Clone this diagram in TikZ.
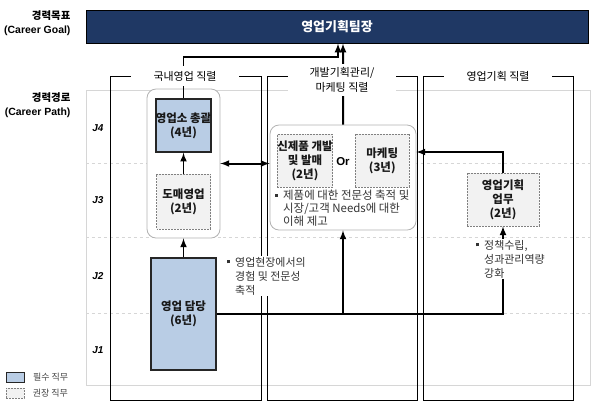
\documentclass[tikz,border=0pt]{standalone}
\usepackage{fontspec}
\setmainfont{Noto Sans CJK KR}
\newfontfamily\arial{Liberation Sans}
\usetikzlibrary{arrows,calc,positioning}
\definecolor{navy}{HTML}{1F3864}
\definecolor{mustblue}{HTML}{B9CDE5}
\definecolor{softgray}{HTML}{F2F2F2}
\definecolor{linegray}{HTML}{D6D6D6}
\tikzset{mandatory/.style={
    rectangle,inner sep=0pt,draw=black!85,line width=1.4pt,
    fill=mustblue,align=center,text=black!90,
    font=\fontsize{11.5}{14}\selectfont\bfseries}}
\tikzset{recommended/.style={
    rectangle,inner sep=0pt,draw=black!50,dash pattern=on 2pt off 1pt,line width=0.6pt,
    fill=softgray,align=center,text=black!90,
    font=\fontsize{11.5}{14}\selectfont\bfseries}}
\tikzset{group/.style={rectangle,rounded corners=9bp,draw=black!30,line width=0.8pt,fill=white}}
\tikzset{track/.style={fill=white,inner sep=1pt,align=center,font=\fontsize{11}{14.5}\selectfont}}
\tikzset{note/.style={anchor=north west,inner sep=1pt,align=left,text=black!80,font=\fontsize{11}{14}\selectfont}}
\tikzset{conn/.style={line width=2pt,-latex}}
\tikzset{frame/.style={line width=0.8pt}}
\newcommand{\notebullet}{\makebox[8pt][l]{\rule[3pt]{3pt}{3pt}}}
\newcommand{\noteindent}{\hspace*{8pt}}

\begin{document}
\begin{tikzpicture}[x=1bp,y=-1bp,node distance=21bp]
\useasboundingbox (0,0) rectangle (600,407);

\draw[linegray,line width=0.8pt] (86,90) rectangle (590,385);
\foreach \y in {163,237,313} \draw[linegray,dashed,line width=0.5pt] (86,\y) -- (590,\y);
\foreach \j/\y in {4/128,3/200,2/276,1/350} \node (J\j) at (98,\y) {\arial\fontsize{10}{12}\selectfont\bfseries\itshape J\j};

\node (goalhead) [anchor=east,align=right,font=\fontsize{10.5}{14}\selectfont\bfseries] at (74,23) {경력목표\\{\arial (Career Goal)}};
\node (pathhead) [anchor=east,align=right,font=\fontsize{10.5}{14}\selectfont\bfseries] at (74,105) {경력경로\\{\arial (Career Path)}};

\draw[frame] (110,76) rectangle (261,400);
\draw[frame] (267,76) rectangle (417,400);
\draw[frame] (423,76) rectangle (573,400);

\node (goal) [rectangle,draw=black,line width=1pt,fill=navy,minimum width=502bp,minimum height=33bp,text=white,font=\fontsize{13}{15}\selectfont\bfseries] at (337,26.5) {영업기획팀장};

\node (col1box) [group,minimum width=73bp,minimum height=149bp] at (183.5,163.5) {};
\node (chief) [mandatory,minimum width=55bp,minimum height=53bp] at (183.5,125.5) {영업소 총괄\\(4년)};
\node (wholesale) [recommended,below=of chief,minimum width=54bp,minimum height=55bp] {도매영업\\(2년)};
\node (sales) [mandatory,minimum width=65bp,minimum height=112bp] at (183.5,314) {영업 담당\\(6년)};

\node (devbox) [group,minimum width=146bp,minimum height=105bp] at (343,177.5) {};
\node (newprod) [recommended,minimum width=54bp,minimum height=53bp] at (305,160.5) {신제품 개발\\및 발매\\(2년)};
\node (marketing) [recommended,right=22bp of newprod,minimum width=54bp,minimum height=53bp] {마케팅\\(3년)};
\node (or) at (343,162) {\arial\fontsize{11.5}{13}\selectfont\bfseries Or};
\node (devnote) [note,font=\fontsize{11.5}{13}\selectfont] at (274,189) {\notebullet 제품에 대한 전문성 축적 및\\\noteindent 시장/고객 Needs에 대한\\\noteindent 이해 제고};

\node (plan) [recommended,minimum width=72bp,minimum height=53bp] at (503,199.5) {영업기획\\업무\\(2년)};

\draw[conn] (chief.north) |- ([xshift=1bp,yshift=-13bp]goal.south) -- ([xshift=1bp]goal.south);
\draw[conn] (devbox.north) -- ([xshift=6bp]goal.south);
\draw[conn] (wholesale.north) -- (chief.south);
\draw[conn] (sales.north) -- (col1box.south);
\draw[conn,latex-latex] (col1box.east) -- (col1box.east -| devbox.west);
\draw[conn] (sales.east) -| (plan.south);
\draw[conn] (sales.east -| devbox.south) -- (devbox.south);
\draw[conn] (plan.north) |- ([yshift=25.5bp]devbox.east);

\node (domestic) [track,minimum width=108bp,minimum height=20bp] at (185,76) {국내영업 직렬};
\node (devtrack) [track,minimum width=108bp,minimum height=32bp] at (342,80) {개발기획관리/\\마케팅 직렬};
\node (plantrack) [track,minimum width=108bp,minimum height=20bp] at (498,76) {영업기획 직렬};

\node (salesnote) [note,fill=white] at (226,256) {\notebullet 영업현장에서의\\\noteindent 경험 및 전문성\\\noteindent 축적};
\node (plannote) [note,fill=white] at (475,239) {\notebullet 정책수립,\\\noteindent 성과관리역량\\\noteindent 강화};

\node (legmust) [mandatory,line width=1pt,minimum width=18bp,minimum height=10bp] at (15,377) {};
\node (legrec) [recommended,minimum width=18bp,minimum height=10bp] at (15,393) {};
\node (legmusttext) [right=5bp of legmust,text=black!75,font=\fontsize{9}{10}\selectfont] {필수 직무};
\node (legrectext) [right=5bp of legrec,text=black!75,font=\fontsize{9}{10}\selectfont] {권장 직무};
\end{tikzpicture}
\end{document}
